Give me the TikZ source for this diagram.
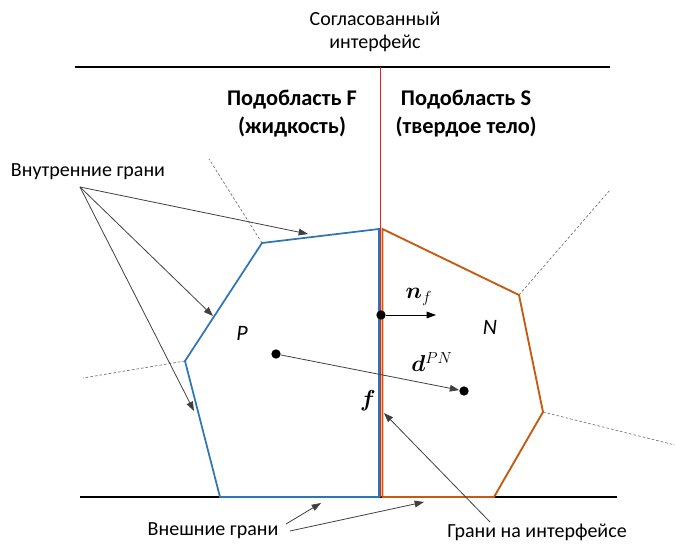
\documentclass[tikz,border=0pt]{standalone}
\usepackage{amsmath, amssymb, bm}
\usepackage{fontspec}
\setmainfont{Carlito}
\usepackage{tikz}
\usetikzlibrary{positioning, arrows.meta}
\definecolor{fluidblue}{RGB}{46,117,182}
\definecolor{solidorange}{RGB}{197,90,17}
\definecolor{ifacered}{RGB}{240,30,30}

\begin{document}
\begin{tikzpicture}
            [x=0.75pt, y=-0.75pt,
             vertex/.style={circle, fill=black, inner sep=0pt, minimum size=7pt},
             txt/.style={font={\fontsize{15}{17.2}\selectfont}, align=center},
             title/.style={font={\fontsize{16.8}{21}\selectfont\bfseries}, align=center},
             sym/.style={font={\fontsize{17.5}{20}\selectfont}},
             pointer/.style={->, draw=black!75, line width=0.6pt},
             ghost/.style={draw=black!55, line width=0.5pt, dash pattern=on 2pt off 1.5pt},
             >={Triangle[length=7pt, width=5pt]}]
            \useasboundingbox (0,0) rectangle (675,545);

            % boundaries
            \draw[line width=1.5pt] (75,67) -- (610,67);
            \draw[line width=1.5pt] (80,497) -- (617,497);

            % cell P (fluid)
            \coordinate (p1) at (379,229);
            \coordinate (p2) at (262,243);
            \coordinate (p3) at (185,361);
            \coordinate (p4) at (220,497);
            \coordinate (p5) at (379,497);
            % cell N (solid)
            \coordinate (n1) at (382.5,229);
            \coordinate (n2) at (519,295);
            \coordinate (n3) at (543,412);
            \coordinate (n4) at (494,497);
            \coordinate (n5) at (382.5,497);

            % neighbouring faces
            \draw[ghost] (p2) -- (209,159);
            \draw[ghost] (p3) -- (83,378);
            \draw[ghost] (n2) -- (610,190);
            \draw[ghost] (n3) -- (675,445);

            \draw[solidorange, line width=1.4pt] (n1) -- (n2) -- (n3) -- (n4) -- (n5) -- cycle;
            \draw[fluidblue, line width=1.3pt] (p1) -- (p2) -- (p3) -- (p4) -- (p5) -- cycle;
            % interface
            \draw[ifacered, line width=0.75pt] (380.7,67) -- (380.7,497);

            % texts
            \node[txt] (iface) at (375,32) {Согласованный\\интерфейс};
            \node[title] (subF) at (292,114) {Подобласть F\\(жидкость)};
            \node[title] (subS) at (466,114) {Подобласть S\\(твердое тело)};
            \node[txt] (inner) at (88,172) {Внутренние грани};
            \node[txt] (outer) at (213,531) {Внешние грани};
            \node[txt] (onface) at (537,532) {Грани на интерфейсе};

            \node[font={\fontsize{16.5}{18}\selectfont}] (lP) at (242,333) {\textit{P}};
            \node[font={\fontsize{16.5}{18}\selectfont}] (lN) at (490,327) {\textit{N}};
            \node[sym] (lnf) at (419,297) {$\bm{n}_f$};
            \node[sym] (ld) at (432,362) {$\bm{d}^{PN}$};
            \node[sym] (lf) at (368,401) {$\bm{f}$};

            % centres and face point
            \node[vertex] (cP) at (276,354) {};
            \node[vertex] (cN) at (464,391) {};
            \node[vertex] (fc) at (381,315) {};
            \coordinate (nf) at (436,315);

            \draw [->, line width=0.6pt] (fc) -- (nf);
            \draw [pointer] (cP) -- (cN);

            % pointers
            \coordinate (ia) at (80,187);
            \coordinate (it1) at (308,234);
            \coordinate (it2) at (213,316);
            \coordinate (it3) at (194,411);
            \draw [pointer] (ia) -- (it1);
            \draw [pointer] (ia) -- (it2);
            \draw [pointer] (ia) -- (it3);

            \coordinate (oa) at (286,524);
            \coordinate (ob) at (290,531);
            \coordinate (ot1) at (321,503);
            \coordinate (ot2) at (424,502);
            \draw [pointer] (oa) -- (ot1);
            \draw [pointer] (ob) -- (ot2);

            \coordinate (fa) at (490,522);
            \coordinate (ft) at (384,413);
            \draw [pointer] (fa) -- (ft);
        \end{tikzpicture}
\end{document}
